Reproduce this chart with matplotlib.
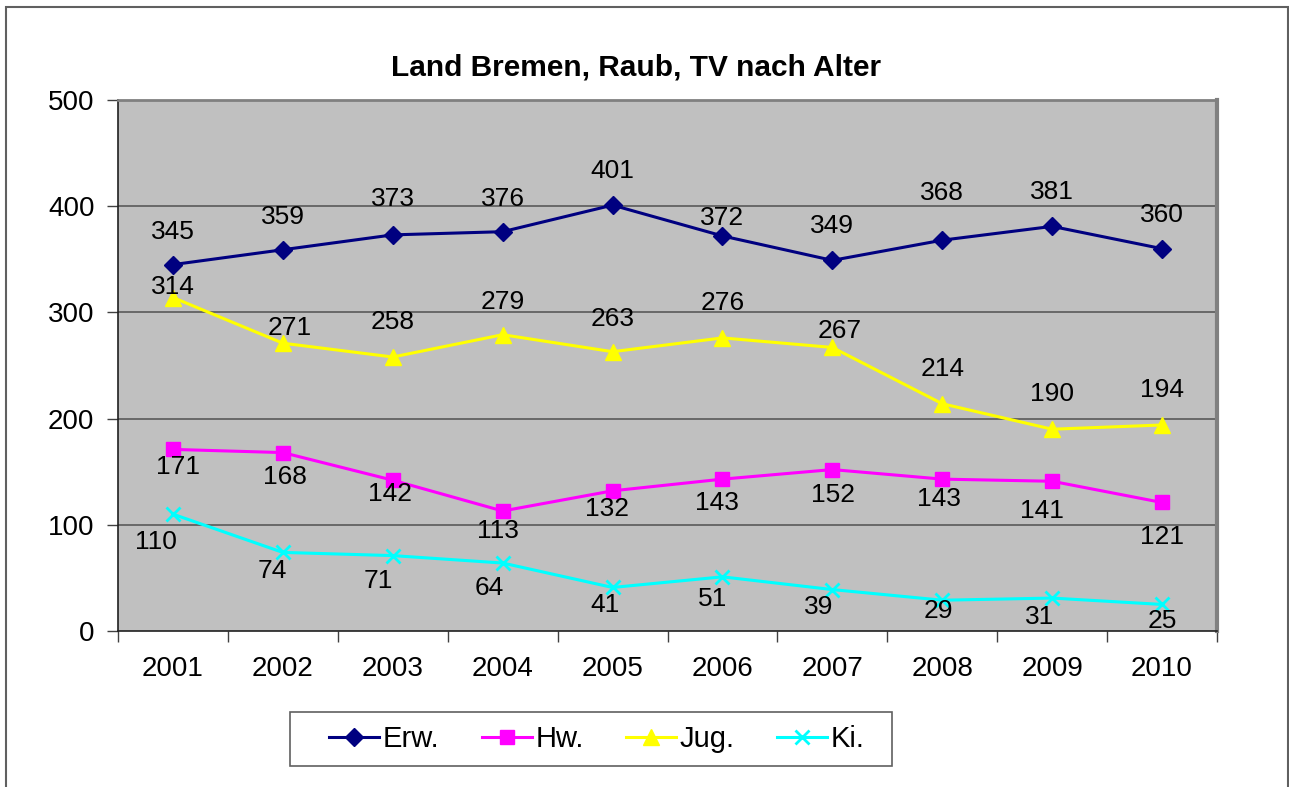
import numpy as np
import matplotlib
matplotlib.use("Agg")
import matplotlib.pyplot as plt
from matplotlib.patches import Rectangle

plt.rcParams['font.family'] = ['Liberation Sans', 'DejaVu Sans']

title = "Land Bremen, Raub, TV nach Alter"
years = ["2001", "2002", "2003", "2004", "2005", "2006", "2007", "2008", "2009", "2010"]
erw = [345, 359, 373, 376, 401, 372, 349, 368, 381, 360]
hw = [171, 168, 142, 113, 132, 143, 152, 143, 141, 121]
jug = [314, 271, 258, 279, 263, 276, 267, 214, 190, 194]
ki = [110, 74, 71, 64, 41, 51, 39, 29, 31, 25]
series_names = ["Erw.", "Hw.", "Jug.", "Ki."]
y_ticks = [0, 100, 200, 300, 400, 500]

# label offsets in pixels (dx, dy upward positive)
erw_off = [(0, 33), (0, 33), (0, 36), (0, 33), (0, 34), (0, 18), (0, 34), (0, 47), (0, 34), (0, 34)]
jug_off = [(0, 11), (7, 15), (0, 35), (0, 33), (0, 33), (0, 35), (7, 16), (0, 35), (0, 35), (0, 35)]
hw_off = [(5, -18), (2, -24), (-3, -14), (-5, -20), (-6, -18), (-6, -24), (1, -25), (-3, -20), (-10, -30), (0, -35)]
ki_off = [(-17, -28), (-11, -19), (-14, -25), (-13, -25), (-8, -18), (-10, -22), (-14, -17), (-4, -11), (-13, -19), (0, -17)]

W, H = 1289, 787
fig = plt.figure(figsize=(W / 100, H / 100), dpi=100)
fig.patch.set_facecolor('white')
ax = fig.add_axes([118 / W, 1 - 631 / H, (1217 - 118) / W, (631 - 100) / H])
ax.set_facecolor('#C0C0C0')

x = np.arange(len(years))
styles = [
    (erw, '#000080', 'D', 9, erw_off),
    (hw, '#FF00FF', 's', 10, hw_off),
    (jug, '#FFFF00', '^', 11, jug_off),
    (ki, '#00FFFF', 'x', 10, ki_off),
]
handles = []
for (vals, col, mk, ms, offs), name in zip(styles, series_names):
    mew = 2 if mk == 'x' else 1
    h, = ax.plot(x, vals, color=col, marker=mk, markersize=ms, lw=2.2,
                 markeredgecolor=col, markerfacecolor=col, markeredgewidth=mew,
                 label=name, zorder=3, clip_on=False)
    handles.append(h)
    for xi, v, (dx, dy) in zip(x, vals, offs):
        ax.annotate(str(v), (xi, v), xytext=(dx, dy), textcoords='offset pixels',
                    ha='center', va='center', fontsize=19, color='black', zorder=4)

ax.set_xlim(-0.5, len(years) - 0.5)
ax.set_ylim(0, 500)
ax.set_yticks(y_ticks)
ax.set_yticklabels([str(t) for t in y_ticks])
for t in y_ticks[1:-1]:
    ax.axhline(t, color='#505050', lw=1.1, zorder=1)

ax.set_xticks(np.arange(-0.5, len(years), 1.0))
ax.set_xticklabels([])
ax.set_xticks(x, minor=True)
ax.set_xticklabels(years, minor=True)
ax.tick_params(axis='x', which='major', length=8, width=1, color='#404040', direction='out')
ax.tick_params(axis='x', which='minor', length=0, pad=18, labelsize=20)
ax.tick_params(axis='y', which='major', length=8, width=1, color='#404040', direction='out', pad=9, labelsize=20)

ax.spines['left'].set_color('#202020')
ax.spines['bottom'].set_color('#202020')
ax.spines['left'].set_linewidth(1.2)
ax.spines['bottom'].set_linewidth(1.2)
ax.spines['top'].set_color('#808080')
ax.spines['right'].set_color('#808080')
ax.spines['top'].set_linewidth(2)
ax.spines['right'].set_linewidth(3)

fig.text(636 / W, 1 - 68 / H, title, ha='center', va='center', fontsize=21.5, fontweight='bold')

# legend frame
fig.add_artist(Rectangle((290 / W, 1 - 766 / H), (892 - 290) / W, (766 - 712) / H,
                         transform=fig.transFigure, fill=True, facecolor='white',
                         edgecolor='#606060', lw=1.2, zorder=2))
leg = fig.legend(handles=handles, labels=series_names, loc='center',
                 bbox_to_anchor=(597 / W, 1 - 739 / H), ncol=4, fontsize=21,
                 frameon=False, handlelength=1.72, handletextpad=0.12,
                 columnspacing=1.45, borderpad=0.0, borderaxespad=0)
leg.set_zorder(3)

fig.add_artist(Rectangle((6 / W, -0.02), (1288 - 6) / W, (787 - 7) / H + 0.02,
                         transform=fig.transFigure, fill=False,
                         edgecolor='#606060', lw=1.5))

fig.savefig('out.png', dpi=100)
